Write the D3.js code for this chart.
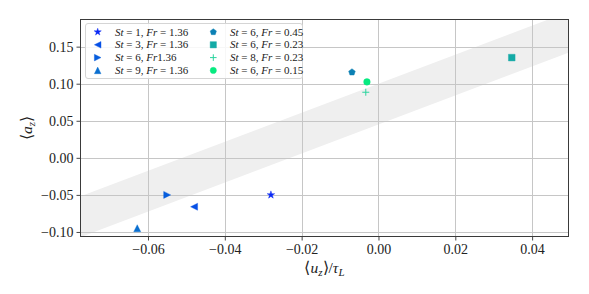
<!DOCTYPE html>
<html>
<head>
<meta charset="utf-8">
<script src="https://cdn.jsdelivr.net/npm/d3@7"></script>
<style>
  html, body { margin: 0; padding: 0; background: #fff; }
  svg { display: block; }
  svg text { font-family: "Liberation Serif", "Times New Roman", Times, serif !important; fill: #222; }
</style>
</head>
<body>
<svg id="chart" width="589" height="294"></svg>
<script>
// ---------------- data ----------------
const stValues = [1, 3, 6, 9, 6, 6, 8, 6];
const frValues = ["1.36", "1.36", "1.36", "1.36", "0.45", "0.23", "0.23", "0.15"];
const frHasEquals = [true, true, false, true, true, true, true, true];
const xValues = [-0.028, -0.048, -0.055, -0.0628, -0.0069, 0.0347, -0.0033, -0.0030];
const yValues = [-0.050, -0.066, -0.050, -0.095, 0.1155, 0.1352, 0.0885, 0.1024];
const markerKinds = ["star", "tri-left", "tri-right", "tri-up", "pentagon", "square", "plus", "circle"];
const markerColors = ["#0a28f5", "#0650e6", "#075ddd", "#0a6fd0", "#0c80b4", "#14aaa6", "#2ad49e", "#06ea80"];

const xTicks = [-0.06, -0.04, -0.02, 0.00, 0.02, 0.04];
const yTicks = [-0.10, -0.05, 0.00, 0.05, 0.10, 0.15];
const xDomain = [-0.0777, 0.0496];
const yDomain = [-0.1068, 0.1873];

// grey band: y = slope * x + intercept, between two intercepts
const bandSlope = 1.96;
const bandIntercepts = [0.045, 0.100];

// ---------------- layout ----------------
const svg = d3.select("#chart");
const L = 80, R = 569, T = 19, B = 237;
const x = d3.scaleLinear().domain(xDomain).range([L, R]);
const y = d3.scaleLinear().domain(yDomain).range([B, T]);
const FONT = '"Liberation Serif", "Times New Roman", Times, serif';

svg.append("defs").append("clipPath").attr("id", "plotclip")
  .append("rect").attr("x", L).attr("y", T).attr("width", R - L).attr("height", B - T);

// band
const bx = [xDomain[0], xDomain[1]];
const bandPts = [
  [x(bx[0]), y(bandSlope * bx[0] + bandIntercepts[0])],
  [x(bx[1]), y(bandSlope * bx[1] + bandIntercepts[0])],
  [x(bx[1]), y(bandSlope * bx[1] + bandIntercepts[1])],
  [x(bx[0]), y(bandSlope * bx[0] + bandIntercepts[1])]
];
svg.append("path")
  .attr("clip-path", "url(#plotclip)")
  .attr("d", d3.line()(bandPts) + "Z")
  .attr("fill", "#efefef");

// grid
const grid = svg.append("g").attr("stroke", "#c6c6c6").attr("stroke-width", 1);
xTicks.forEach(t => {
  const px = Math.round(x(t)) + 0.5;
  grid.append("line").attr("x1", px).attr("x2", px).attr("y1", T).attr("y2", B);
});
yTicks.forEach(t => {
  const py = Math.round(y(t)) + 0.5;
  grid.append("line").attr("x1", L).attr("x2", R).attr("y1", py).attr("y2", py);
});

// axes
const fmt = v => {
  const s = Math.abs(v).toFixed(2);
  return (v < -1e-9 ? "\u2212" : "") + s;
};
const xAxis = d3.axisBottom(x).tickValues(xTicks).tickSize(3.5).tickPadding(3).tickFormat(fmt);
const yAxis = d3.axisLeft(y).tickValues(yTicks).tickSize(3.5).tickPadding(3).tickFormat(fmt);
const gx = svg.append("g").attr("transform", `translate(0,${B})`).call(xAxis);
const gy = svg.append("g").attr("transform", `translate(${L},0)`).call(yAxis);
[gx, gy].forEach(g => {
  g.attr("font-family", null).attr("font-size", null);
  g.select(".domain").remove();
  g.selectAll(".tick line").attr("stroke", "#333").attr("stroke-width", 0.9);
  g.selectAll(".tick text").style("font-family", FONT).style("font-size", "14px").attr("fill", "#222");
});
gx.selectAll(".tick text").attr("dy", "0.78em");

// frame
svg.append("rect").attr("x", L + 0.5).attr("y", T + 0.5).attr("width", R - L - 1).attr("height", B - T - 1)
  .attr("fill", "none").attr("stroke", "#3a3a3a").attr("stroke-width", 1);

// markers
function markerPath(kind, s) {
  const p = d3.path();
  if (kind === "star") {
    const r = s * 1.15, ri = r * 0.381966;
    for (let i = 0; i < 10; i++) {
      const a = -Math.PI / 2 + i * Math.PI / 5;
      const rr = i % 2 === 0 ? r : ri;
      const px = rr * Math.cos(a), py = rr * Math.sin(a);
      if (i === 0) p.moveTo(px, py); else p.lineTo(px, py);
    }
    p.closePath();
  } else if (kind.startsWith("tri")) {
    const h = s;
    let pts = [[0, -h], [-h, h], [h, h]];
    if (kind === "tri-left") pts = [[-h, 0], [h, -h], [h, h]];
    if (kind === "tri-right") pts = [[h, 0], [-h, -h], [-h, h]];
    p.moveTo(pts[0][0], pts[0][1]); p.lineTo(pts[1][0], pts[1][1]); p.lineTo(pts[2][0], pts[2][1]); p.closePath();
  } else if (kind === "pentagon") {
    const r = s;
    for (let i = 0; i < 5; i++) {
      const a = -Math.PI / 2 + i * 2 * Math.PI / 5;
      if (i === 0) p.moveTo(r * Math.cos(a), r * Math.sin(a)); else p.lineTo(r * Math.cos(a), r * Math.sin(a));
    }
    p.closePath();
  } else if (kind === "square") {
    const h = s * 0.95;
    p.rect(-h, -h, 2 * h, 2 * h);
  } else if (kind === "circle") {
    p.arc(0, 0, s * 0.95, 0, 2 * Math.PI);
  } else if (kind === "plus") {
    p.moveTo(-s, 0); p.lineTo(s, 0); p.moveTo(0, -s); p.lineTo(0, s);
  }
  return p.toString();
}
function drawMarker(g, kind, color, cx, cy, s) {
  const el = g.append("path").attr("d", markerPath(kind, s)).attr("transform", `translate(${cx},${cy})`);
  if (kind === "plus") el.attr("fill", "none").attr("stroke", color).attr("stroke-width", 1);
  else el.attr("fill", color).attr("stroke", color).attr("stroke-width", 0.4);
}
const pts = svg.append("g").attr("clip-path", "url(#plotclip)");
xValues.forEach((xv, i) => drawMarker(pts, markerKinds[i], markerColors[i], x(xv), y(yValues[i]), 3.5));

// legend
const lg = svg.append("g");
lg.append("rect").attr("x", 85.5).attr("y", 23.5).attr("width", 217).attr("height", 55).attr("rx", 2.5)
  .attr("fill", "#fff").attr("fill-opacity", 0.85).attr("stroke", "#d5d5d5").attr("stroke-width", 1);
const rowY = [32, 44.8, 57.6, 70.4];
stValues.forEach((st, i) => {
  const col = Math.floor(i / 4), row = i % 4;
  const mx = col === 0 ? 97.7 : 213.3;
  const tx = col === 0 ? 115 : 230;
  drawMarker(lg, markerKinds[i], markerColors[i], mx, rowY[row], 3.3);
  const t = lg.append("text").attr("x", tx).attr("y", rowY[row] + 3.6).style("font-size", "11px");
  t.append("tspan").attr("font-style", "italic").text("St");
  t.append("tspan").text(" = " + st + ", ");
  t.append("tspan").attr("font-style", "italic").text("Fr");
  t.append("tspan").text((frHasEquals[i] ? " = " : "") + frValues[i]);
});

// axis labels
const xl = svg.append("text").attr("x", (L + R) / 2).attr("y", 273).attr("text-anchor", "middle").style("font-size", "15.5px");
xl.append("tspan").text("\u27E8");
xl.append("tspan").attr("font-style", "italic").text("u");
xl.append("tspan").attr("font-style", "italic").style("font-size", "11px").attr("dy", 3).text("z");
xl.append("tspan").attr("dy", -3).text("\u27E9/");
xl.append("tspan").attr("font-style", "italic").text("\u03C4");
xl.append("tspan").attr("font-style", "italic").style("font-size", "11px").attr("dy", 3).text("L");

const yl = svg.append("text").attr("transform", `translate(32,${(T + B) / 2}) rotate(-90)`).attr("text-anchor", "middle").style("font-size", "15.5px");
yl.append("tspan").text("\u27E8");
yl.append("tspan").attr("font-style", "italic").text("a");
yl.append("tspan").attr("font-style", "italic").style("font-size", "11px").attr("dy", 3).text("z");
yl.append("tspan").attr("dy", -3).text("\u27E9");
</script>
</body>
</html>
